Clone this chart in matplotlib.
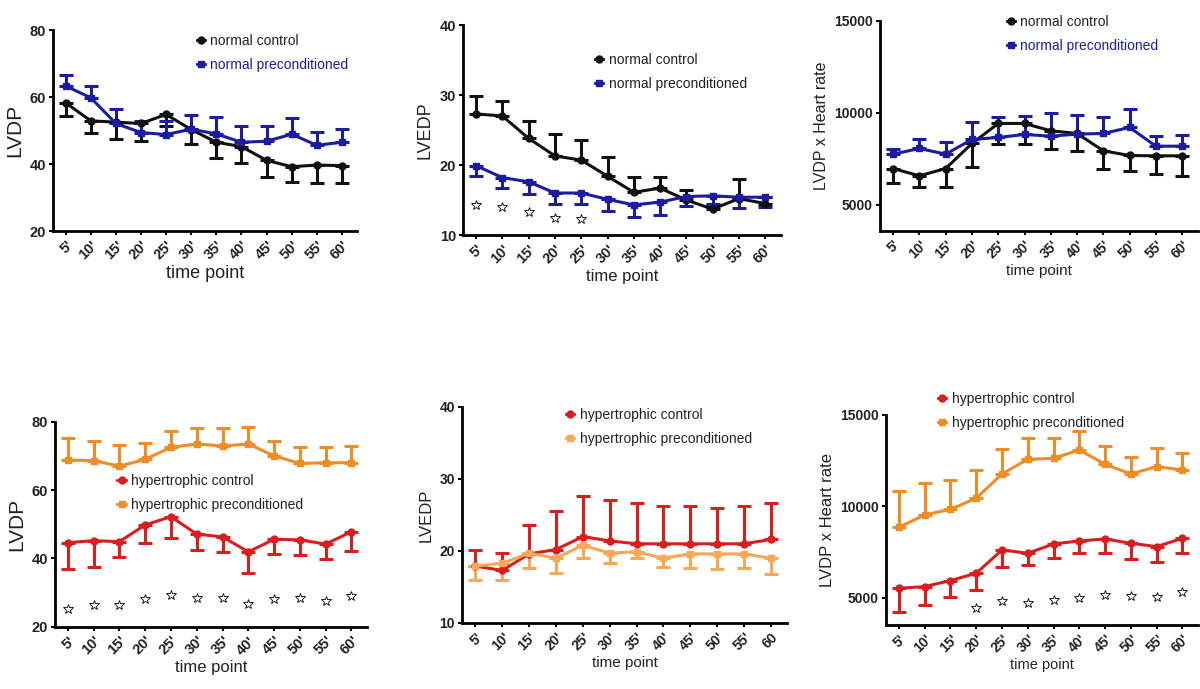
import matplotlib
matplotlib.use("Agg")
import matplotlib.pyplot as plt
from matplotlib.lines import Line2D

plt.rcParams['font.family'] = ['Liberation Sans', 'DejaVu Sans']

# time points
times = ["5'", "10'", "15'", "20'", "25'", "30'", "35'", "40'", "45'", "50'", "55'", "60'"]
times_p5 = ["5'", "10'", "15'", "20'", "25'", "30'", "35'", "40'", "45'", "50'", "55'", "60"]

# normal hearts: LVDP
n_lvdp_ctrl = [58.3, 52.9, 52.5, 52.1, 54.8, 50.3, 46.5, 45.2, 41.1, 39.2, 39.7, 39.5]
n_lvdp_ctrl_sem = [3.9, 3.7, 5.1, 5.2, 3.5, 4.3, 4.7, 4.8, 4.9, 4.5, 5.3, 5.3]
n_lvdp_pre = [63.3, 59.8, 52.1, 49.4, 48.8, 50.4, 49.0, 46.5, 46.8, 48.9, 45.6, 46.5]
n_lvdp_pre_sem = [3.2, 3.6, 4.2, 3.5, 4.1, 4.2, 5.1, 4.8, 4.5, 4.8, 4.1, 4.1]

# normal hearts: LVEDP
n_lvedp_ctrl = [27.3, 27.0, 23.8, 21.3, 20.7, 18.4, 16.1, 16.7, 15.0, 13.7, 15.2, 14.5]
n_lvedp_ctrl_sem = [2.6, 2.2, 2.5, 3.1, 2.9, 2.8, 2.2, 1.6, 1.4, 0.6, 2.8, 1.0]
n_lvedp_pre = [19.9, 18.2, 17.6, 16.0, 16.0, 15.1, 14.3, 14.7, 15.5, 15.6, 15.4, 15.4]
n_lvedp_pre_sem = [1.5, 1.5, 1.8, 1.6, 1.6, 1.6, 1.7, 1.8, 1.3, 1.2, 1.6, 1.4]
n_lvedp_star_idx = [0, 1, 2, 3, 4]
n_lvedp_star_y = [14.3, 14.0, 13.3, 12.4, 12.3]

# normal hearts: LVDP x heart rate
n_rpp_ctrl = [6975, 6576, 6975, 8333, 9420, 9420, 9022, 8877, 7935, 7681, 7663, 7663]
n_rpp_ctrl_sem = [780, 600, 1000, 1300, 1120, 1120, 1015, 960, 1000, 830, 960, 1100]
n_rpp_pre = [7754, 8062, 7754, 8551, 8659, 8822, 8732, 8841, 8877, 9203, 8188, 8188]
n_rpp_pre_sem = [270, 525, 670, 940, 1120, 1000, 1230, 1030, 870, 1000, 545, 600]

# hypertrophic hearts: LVDP
h_lvdp_ctrl = [44.6, 45.2, 44.9, 49.8, 52.2, 47.1, 46.3, 41.9, 45.6, 45.4, 44.2, 47.8]
h_lvdp_ctrl_sem = [7.6, 7.6, 4.4, 5.2, 6.3, 4.5, 4.4, 6.3, 4.3, 4.4, 4.5, 5.6]
h_lvdp_pre = [68.8, 68.6, 67.0, 69.0, 72.5, 73.5, 72.9, 73.5, 70.0, 67.8, 68.0, 68.0]
h_lvdp_pre_sem = [6.3, 5.8, 6.1, 4.9, 4.7, 4.8, 5.2, 5.0, 4.4, 4.7, 4.7, 4.9]
h_lvdp_star_idx = [0, 1, 2, 3, 4, 5, 6, 7, 8, 9, 10, 11]
h_lvdp_star_y = [25.1, 26.3, 26.3, 28.0, 29.3, 28.5, 28.3, 26.6, 28.0, 28.5, 27.6, 29.0]

# hypertrophic hearts: LVEDP
h_lvedp_ctrl = [17.9, 17.3, 19.6, 20.2, 22.0, 21.4, 21.0, 21.0, 21.0, 21.0, 21.0, 21.6]
h_lvedp_ctrl_sem = [2.2, 2.4, 4.0, 5.4, 5.6, 5.7, 5.6, 5.3, 5.3, 5.0, 5.3, 5.1]
h_lvedp_pre = [17.9, 18.3, 19.7, 19.0, 20.8, 19.7, 19.9, 19.0, 19.6, 19.6, 19.6, 19.0]
h_lvedp_pre_sem = [1.9, 2.3, 2.0, 2.0, 1.8, 1.3, 0.9, 1.2, 2.0, 2.1, 1.9, 2.2]

# hypertrophic hearts: LVDP x heart rate
h_rpp_ctrl = [5511, 5602, 5931, 6332, 7609, 7427, 7938, 8102, 8212, 7974, 7792, 8248]
h_rpp_ctrl_sem = [1280, 1000, 880, 910, 950, 640, 790, 640, 750, 880, 820, 820]
h_rpp_pre = [8850, 9526, 9836, 10438, 11770, 12573, 12628, 13084, 12299, 11770, 12172, 11989]
h_rpp_pre_sem = [2000, 1770, 1600, 1550, 1350, 1150, 1130, 1040, 1000, 910, 1000, 910]
h_rpp_star_idx = [3, 4, 5, 6, 7, 8, 9, 10, 11]
h_rpp_star_y = [4453, 4818, 4726, 4872, 5000, 5146, 5091, 5055, 5328]

BLACK = '#111111'
BLUE = '#1c1ca0'
RED = '#d81e1e'
ORANGE = '#ee8c25'
LORANGE = '#f4a858'
TEXT = '#222222'

x = list(range(12))

fig = plt.figure(figsize=(12, 6.89), dpi=100)


def series(ax, y, sem, color, marker, up):
    if up:
        err = [[0] * len(sem), sem]
    else:
        err = [sem, [0] * len(sem)]
    ax.errorbar(x, y, yerr=err, color=color, marker=marker, ms=5, lw=2.2,
                elinewidth=2.2, capsize=5, capthick=2.2)


def stars(ax, idx, ys):
    ax.plot(idx, ys, linestyle='none', marker='*', ms=7.5, mfc='white',
            mec='black', mew=0.6)


def style(ax, ylim, yticks, labels, ylabel, ylsize, xlsize, ticksize):
    ax.set_xlim(-0.5, 11.6)
    ax.set_ylim(*ylim)
    ax.set_yticks(yticks)
    ax.set_xticks(x)
    ax.set_xticklabels(labels, rotation=45, ha='right', rotation_mode='anchor',
                       fontweight='bold', fontsize=ticksize, color=TEXT)
    for t in ax.get_yticklabels():
        t.set_fontweight('bold')
        t.set_fontsize(ticksize)
        t.set_color(TEXT)
    ax.spines['top'].set_visible(False)
    ax.spines['right'].set_visible(False)
    ax.spines['left'].set_linewidth(2)
    ax.spines['bottom'].set_linewidth(2)
    ax.tick_params(axis='both', width=1.5, length=3, pad=2)
    ax.set_ylabel(ylabel, fontsize=ylsize, color=TEXT)
    ax.set_xlabel('time point', fontsize=xlsize, color=TEXT, labelpad=2)


def legend(ax, names, colors, markers, text_colors, pos, size):
    handles = [Line2D([0], [0], color=c, marker=m, ms=5, lw=2)
               for c, m in zip(colors, markers)]
    leg = ax.legend(handles, names, loc='upper left', bbox_to_anchor=pos,
                    bbox_transform=fig.transFigure, frameon=False,
                    fontsize=size, handlelength=0.6, handletextpad=0.4,
                    labelspacing=0.7, borderpad=0)
    for t, c in zip(leg.get_texts(), text_colors):
        t.set_color(c)


# top row
ax1 = fig.add_axes([0.0442, 0.6647, 0.2533, 0.2917])
series(ax1, n_lvdp_ctrl, n_lvdp_ctrl_sem, BLACK, 'o', False)
series(ax1, n_lvdp_pre, n_lvdp_pre_sem, BLUE, 's', True)
style(ax1, (20, 80), [20, 40, 60, 80], times, 'LVDP', 15, 13, 10.5)
legend(ax1, ['normal control', 'normal preconditioned'], [BLACK, BLUE], ['o', 's'],
       [TEXT, BLUE], (0.158, 1 - 27 / 689), 10)

ax2 = fig.add_axes([0.3858, 0.6589, 0.265, 0.3048])
series(ax2, n_lvedp_ctrl, n_lvedp_ctrl_sem, BLACK, 'o', True)
series(ax2, n_lvedp_pre, n_lvedp_pre_sem, BLUE, 's', False)
stars(ax2, n_lvedp_star_idx, n_lvedp_star_y)
style(ax2, (10, 40), [10, 20, 30, 40], times, 'LVEDP', 13, 12, 10.5)
legend(ax2, ['normal control', 'normal preconditioned'], [BLACK, BLUE], ['o', 's'],
       [TEXT, TEXT], (0.49, 1 - 46 / 689), 10)

ax3 = fig.add_axes([0.7333, 0.6652, 0.265, 0.3048])
series(ax3, n_rpp_ctrl, n_rpp_ctrl_sem, BLACK, 'o', False)
series(ax3, n_rpp_pre, n_rpp_pre_sem, BLUE, 's', True)
style(ax3, (3600, 15000), [5000, 10000, 15000], times, 'LVDP x Heart rate', 11.5, 11, 10)
legend(ax3, ['normal control', 'normal preconditioned'], [BLACK, BLUE], ['o', 's'],
       [TEXT, BLUE], (0.833, 1 - 8 / 689), 10)

# bottom row
ax4 = fig.add_axes([0.0458, 0.0904, 0.26, 0.2975])
series(ax4, h_lvdp_ctrl, h_lvdp_ctrl_sem, RED, 'o', False)
series(ax4, h_lvdp_pre, h_lvdp_pre_sem, ORANGE, 's', True)
stars(ax4, h_lvdp_star_idx, h_lvdp_star_y)
style(ax4, (20, 80), [20, 40, 60, 80], times, 'LVDP', 15, 12, 10.5)
legend(ax4, ['hypertrophic control', 'hypertrophic preconditioned'], [RED, ORANGE], ['o', 's'],
       [TEXT, TEXT], (0.092, 1 - 467 / 689), 10)

ax5 = fig.add_axes([0.385, 0.0958, 0.2708, 0.3135])
series(ax5, h_lvedp_ctrl, h_lvedp_ctrl_sem, RED, 'o', True)
series(ax5, h_lvedp_pre, h_lvedp_pre_sem, LORANGE, 's', False)
style(ax5, (10, 40), [10, 20, 30, 40], times_p5, 'LVEDP', 12, 11, 10)
legend(ax5, ['hypertrophic control', 'hypertrophic preconditioned'], [RED, LORANGE], ['o', 's'],
       [TEXT, TEXT], (0.466, 1 - 401 / 689), 10)

ax6 = fig.add_axes([0.7383, 0.0929, 0.26, 0.3048])
series(ax6, h_rpp_ctrl, h_rpp_ctrl_sem, RED, 'o', False)
series(ax6, h_rpp_pre, h_rpp_pre_sem, ORANGE, 's', True)
stars(ax6, h_rpp_star_idx, h_rpp_star_y)
style(ax6, (3500, 15000), [5000, 10000, 15000], times, 'LVDP x Heart rate', 12, 10.5, 10)
legend(ax6, ['hypertrophic control', 'hypertrophic preconditioned'], [RED, ORANGE], ['o', 's'],
       [TEXT, TEXT], (0.776, 1 - 385 / 689), 10)

fig.savefig('out.png', dpi=100)
